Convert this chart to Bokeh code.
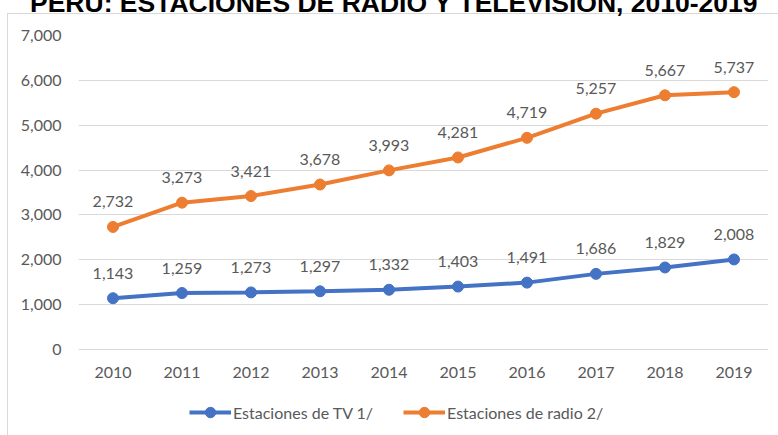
from bokeh.plotting import figure
from bokeh.models import (ColumnDataSource, LabelSet, Legend, LegendItem,
                          FixedTicker, NumeralTickFormatter)
from bokeh.core.properties import value
from bokeh.embed import file_html
from bokeh.resources import INLINE

years = ["2010", "2011", "2012", "2013", "2014", "2015", "2016", "2017", "2018", "2019"]
tv = [1143, 1259, 1273, 1297, 1332, 1403, 1491, 1686, 1829, 2008]
radio = [2732, 3273, 3421, 3678, 3993, 4281, 4719, 5257, 5667, 5737]
y_ticks = [0, 1000, 2000, 3000, 4000, 5000, 6000, 7000]
title_text = "PERÚ: ESTACIONES DE RADIO Y TELEVISIÓN, 2010-2019"
tv_name = "Estaciones de TV 1/"
radio_name = "Estaciones de radio 2/"

BLUE = "#4472C4"
ORANGE = "#ED7D31"
TXT = "#595959"
GRID = "#D9D9D9"
FONT = "Lato"

src = ColumnDataSource(dict(
    x=years, tv=tv, radio=radio,
    zero=[0] * len(years),
    tv_lbl=[f"{v:,}" for v in tv],
    radio_lbl=[f"{v:,}" for v in radio],
))

# canvas starts 45px above the window so the title is cut like in the reference;
# the plot frame runs from the 7,000 line down to the window bottom
p = figure(x_range=years, y_range=(-1917.2, 7000), width=778, height=480,
           output_backend="svg", toolbar_location=None,
           min_border_left=78, min_border_right=10, min_border_top=80, min_border_bottom=0)
p.styles = {
    "margin-top": "-45px",
    "background-color": "white",
    "background-image": "linear-gradient(#D9D9D9,#D9D9D9), linear-gradient(#D9D9D9,#D9D9D9)",
    "background-size": "1px 100%, 100% 1px",
    "background-position": "7px 58px, 7px 58px",
    "background-repeat": "no-repeat",
}
p.outline_line_color = None
p.background_fill_color = "white"
p.border_fill_alpha = 0

# title
p.title.text = title_text
p.title.align = "left"
p.title.offset = -48.5
p.title.standoff = 35
p.title.text_font = "Liberation Sans"
p.title.text_font_style = "bold"
p.title.text_font_size = "26.5px"
p.title.text_color = "black"

# grid (the 0 line doubles as the category axis line)
p.xgrid.grid_line_color = None
p.ygrid.grid_line_color = GRID
p.ygrid.ticker = FixedTicker(ticks=y_ticks)

# value axis
p.yaxis.ticker = FixedTicker(ticks=y_ticks)
p.yaxis.formatter = NumeralTickFormatter(format="0,0")
p.yaxis.axis_line_color = None
p.yaxis.major_tick_line_color = None
p.yaxis.minor_tick_line_color = None
p.yaxis.major_tick_out = 0
p.yaxis.major_label_standoff = 17
p.yaxis.major_label_text_font = FONT
p.yaxis.major_label_text_font_size = "16px"
p.yaxis.major_label_text_color = TXT

# category labels under the 0 line
p.xaxis.visible = False
p.add_layout(LabelSet(x="x", y="zero", text="x", source=src, y_offset=-23,
                      text_align="center", text_baseline="middle",
                      text_font=value(FONT), text_font_size="16px", text_color=TXT))

# series
l_tv = p.line("x", "tv", source=src, line_color=BLUE, line_width=4)
s_tv = p.scatter("x", "tv", source=src, size=11, fill_color=BLUE, line_color=BLUE)
l_ra = p.line("x", "radio", source=src, line_color=ORANGE, line_width=4)
s_ra = p.scatter("x", "radio", source=src, size=11, fill_color=ORANGE, line_color=ORANGE)

for col, lbl in (("tv", "tv_lbl"), ("radio", "radio_lbl")):
    p.add_layout(LabelSet(x="x", y=col, text=lbl, source=src, y_offset=25,
                          text_align="center", text_baseline="middle",
                          text_font=value(FONT), text_font_size="16px", text_color=TXT))

legend = Legend(items=[LegendItem(label=tv_name, renderers=[l_tv, s_tv]),
                       LegendItem(label=radio_name, renderers=[l_ra, s_ra])],
                orientation="horizontal", location=(111, 10),
                glyph_width=42, glyph_height=26, label_height=26,
                label_standoff=2, spacing=30, padding=0, margin=0,
                border_line_color=None, background_fill_alpha=0,
                label_text_font=FONT, label_text_font_size="16px", label_text_color=TXT)
p.add_layout(legend, "center")

open("out.html", "w").write(file_html(p, INLINE))
